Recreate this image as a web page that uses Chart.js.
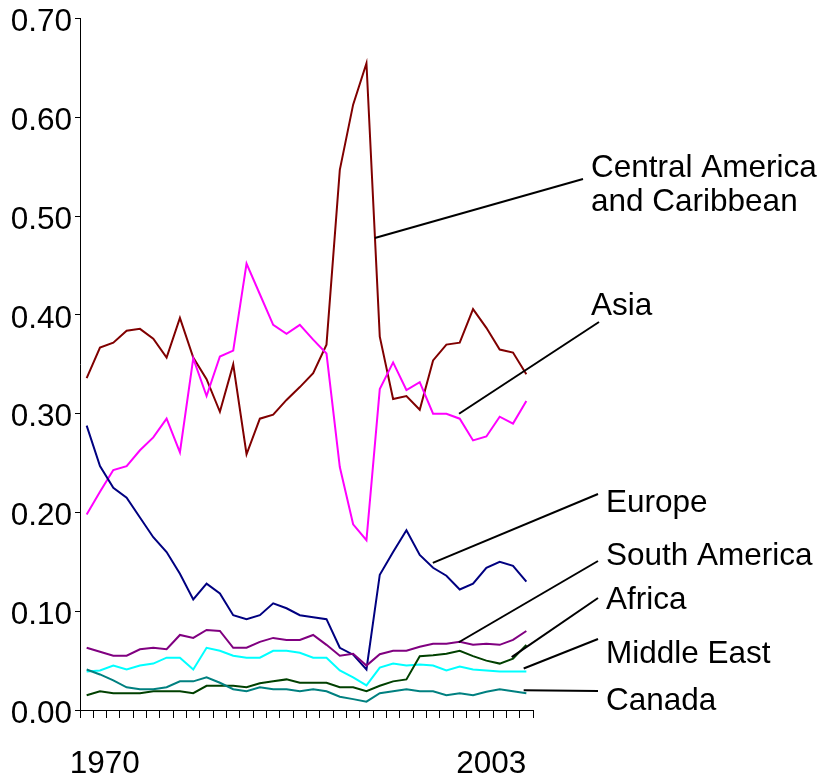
<!DOCTYPE html>
<html>
<head>
<meta charset="utf-8">
<script src="https://cdn.jsdelivr.net/npm/chart.js@4.4.1/dist/chart.umd.min.js"></script>
<style>
  html, body { margin: 0; padding: 0; background: #fff; }
  #wrap { width: 825px; height: 782px; }
</style>
</head>
<body>
<div id="wrap"><canvas id="chart" width="825" height="782"></canvas></div>
<script>
const years = [1970, 1971, 1972, 1973, 1974, 1975, 1976, 1977, 1978, 1979,
  1980, 1981, 1982, 1983, 1984, 1985, 1986, 1987, 1988, 1989,
  1990, 1991, 1992, 1993, 1994, 1995, 1996, 1997, 1998, 1999,
  2000, 2001, 2002, 2003];
const yearLabels = ['1970', '2003'];
const yTicks = [0, 0.1, 0.2, 0.3, 0.4, 0.5, 0.6, 0.7];

const centralAmerica = [0.336, 0.367, 0.372, 0.384, 0.386, 0.376, 0.357, 0.397, 0.357, 0.335,
  0.302, 0.350, 0.259, 0.295, 0.299, 0.314, 0.327, 0.341, 0.370, 0.547,
  0.613, 0.655, 0.378, 0.315, 0.318, 0.304, 0.354, 0.370, 0.372, 0.406,
  0.387, 0.365, 0.362, 0.340];
const asia = [0.198, 0.221, 0.243, 0.247, 0.263, 0.276, 0.295, 0.261, 0.356, 0.318,
  0.358, 0.364, 0.452, 0.421, 0.390, 0.381, 0.390, 0.375, 0.361, 0.246,
  0.188, 0.172, 0.325, 0.352, 0.324, 0.332, 0.300, 0.300, 0.295, 0.273,
  0.277, 0.297, 0.290, 0.313];
const europe = [0.288, 0.247, 0.225, 0.215, 0.195, 0.175, 0.160, 0.138, 0.112, 0.128,
  0.118, 0.096, 0.092, 0.096, 0.108, 0.103, 0.096, 0.094, 0.092, 0.063,
  0.056, 0.041, 0.137, 0.160, 0.182, 0.157, 0.144, 0.136, 0.122, 0.128,
  0.144, 0.150, 0.146, 0.130];
const southAmerica = [0.063, 0.059, 0.055, 0.055, 0.0615, 0.063, 0.0615, 0.076, 0.073, 0.081,
  0.080, 0.063, 0.063, 0.069, 0.073, 0.071, 0.071, 0.076, 0.066, 0.055,
  0.057, 0.045, 0.0565, 0.060, 0.060, 0.064, 0.067, 0.067, 0.069, 0.066,
  0.067, 0.066, 0.071, 0.080];
const middleEast = [0.039, 0.040, 0.045, 0.041, 0.045, 0.047, 0.053, 0.053, 0.041, 0.063,
  0.060, 0.055, 0.053, 0.053, 0.060, 0.060, 0.058, 0.053, 0.053, 0.040,
  0.033, 0.025, 0.043, 0.047, 0.045, 0.046, 0.045, 0.040, 0.044, 0.041,
  0.040, 0.039, 0.039, 0.039];
const africa = [0.015, 0.019, 0.017, 0.017, 0.017, 0.019, 0.019, 0.019, 0.017, 0.0245,
  0.0245, 0.0245, 0.023, 0.027, 0.029, 0.031, 0.0276, 0.0276, 0.0276, 0.023,
  0.023, 0.019, 0.0245, 0.029, 0.031, 0.0545, 0.0555, 0.057, 0.060, 0.0545,
  0.050, 0.047, 0.052, 0.066];
const canada = [0.041, 0.036, 0.030, 0.023, 0.021, 0.021, 0.023, 0.029, 0.029, 0.033,
  0.0276, 0.021, 0.019, 0.023, 0.021, 0.021, 0.019, 0.021, 0.019, 0.0134,
  0.011, 0.0084, 0.017, 0.019, 0.021, 0.019, 0.019, 0.015, 0.017, 0.015,
  0.0185, 0.021, 0.019, 0.017];

const FONT = '"Liberation Sans", Arial, sans-serif';
const FONT_SIZE = 31.5;

// Callouts: leader starts on the series (index, value), ends next to the text (pixels).
const callouts = [
  { text: ['Central America', 'and Caribbean'], at: [21.63, 0.478], end: [583, 179], tx: 591, ty: 177 },
  { text: ['Asia'], at: [27.95, 0.300], end: [599, 322], tx: 591, ty: 315 },
  { text: ['Europe'], at: [25.98, 0.149], end: [598, 494], tx: 606, ty: 512 },
  { text: ['South America'], at: [27.93, 0.0686], end: [598, 561], tx: 606, ty: 565 },
  { text: ['Africa'], at: [31.9, 0.0535], end: [598, 598], tx: 606, ty: 609 },
  { text: ['Middle East'], at: [32.8, 0.042], end: [598, 639], tx: 606, ty: 663 },
  { text: ['Canada'], at: [32.8, 0.020], end: [598, 691], tx: 606, ty: 710 }
];

const calloutPlugin = {
  id: 'callouts',
  afterDraw(chart) {
    const { ctx, scales: { x, y } } = chart;
    ctx.save();
    ctx.strokeStyle = '#000';
    ctx.lineWidth = 2;
    ctx.fillStyle = '#000';
    ctx.font = FONT_SIZE + 'px ' + FONT;
    ctx.textBaseline = 'alphabetic';
    ctx.textAlign = 'left';
    for (const c of callouts) {
      ctx.beginPath();
      ctx.moveTo(x.getPixelForValue(c.at[0]), y.getPixelForValue(c.at[1]));
      ctx.lineTo(c.end[0], c.end[1]);
      ctx.stroke();
      c.text.forEach((t, k) => ctx.fillText(t, c.tx, c.ty + k * 34));
    }
    // Only first and last year are labelled, pulled inwards like the original.
    const base = chart.chartArea.bottom + 63;
    ctx.fillText(yearLabels[0], x.getPixelForValue(0) - 17, base);
    ctx.textAlign = 'right';
    ctx.fillText(yearLabels[1], x.getPixelForValue(years.length - 1), base);
    ctx.restore();
  }
};

const series = [
  { label: 'Canada', data: canada, color: '#008080' },
  { label: 'Africa', data: africa, color: '#004000' },
  { label: 'Middle East', data: middleEast, color: '#00ffff' },
  { label: 'South America', data: southAmerica, color: '#800080' },
  { label: 'Europe', data: europe, color: '#000080' },
  { label: 'Asia', data: asia, color: '#ff00ff' },
  { label: 'Central America and Caribbean', data: centralAmerica, color: '#800000' }
];

new Chart(document.getElementById('chart'), {
  type: 'line',
  data: {
    labels: years.map(String),
    datasets: series.map(s => ({
      label: s.label,
      data: s.data,
      borderColor: s.color,
      borderWidth: 2,
      pointRadius: 0,
      tension: 0,
      fill: false
    }))
  },
  options: {
    responsive: false,
    animation: false,
    devicePixelRatio: 1,
    layout: { padding: { left: 0, top: 16, right: 292, bottom: 0 } },
    plugins: { legend: { display: false }, tooltip: { enabled: false } },
    scales: {
      x: {
        type: 'category',
        offset: true,
        grid: { offset: true, drawOnChartArea: false, drawTicks: true, tickLength: 8, color: '#000', tickWidth: 1 },
        border: { display: true, color: '#000', width: 1 },
        ticks: { display: false, autoSkip: false },
        afterFit: scale => { scale.height = 72; }
      },
      y: {
        min: 0,
        max: 0.7,
        afterBuildTicks: scale => { scale.ticks = yTicks.map(v => ({ value: v })); },
        grid: { drawOnChartArea: false, drawTicks: true, tickLength: 5, color: '#000', tickWidth: 1 },
        border: { display: true, color: '#000', width: 1 },
        ticks: {
          padding: 3,
          color: '#000',
          labelOffset: 4,
          font: { family: FONT, size: FONT_SIZE, lineHeight: 1 },
          callback: v => v.toFixed(2)
        },
        afterFit: scale => { scale.width = 80; }
      }
    }
  },
  plugins: [calloutPlugin]
});
</script>
</body>
</html>
